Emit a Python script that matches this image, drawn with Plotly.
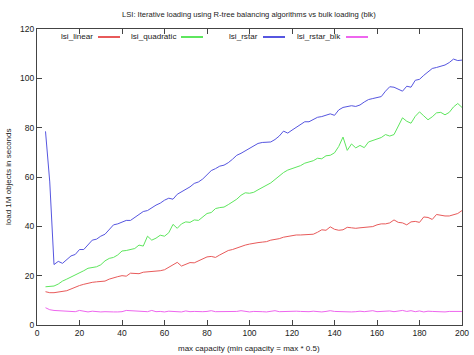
import plotly.graph_objects as go

x_capacity = list(range(4, 201, 2))

lsi_linear = [13.5, 13.1, 13.1, 13.3, 13.6, 13.9, 14.6, 15.4, 16.0, 16.5,
              17.0, 17.3, 17.5, 17.5, 17.8, 18.6, 19.2, 19.6, 20.0, 19.8,
              21.0, 20.8, 20.8, 21.4, 21.5, 21.6, 21.8, 22.0, 22.4, 23.4,
              24.4, 25.4, 23.9, 24.6, 25.3, 25.2, 26.0, 26.8, 27.6, 27.8,
              27.4, 28.4, 29.4, 30.2, 30.6, 31.2, 32.0, 32.4, 32.8, 33.2,
              33.4, 33.6, 33.8, 34.4, 34.6, 35.0, 35.6, 36.0, 36.3, 36.5,
              36.5, 36.5, 36.6, 36.8, 37.6, 38.6, 38.4, 39.8, 38.8, 38.4,
              38.6, 39.6, 39.4, 39.2, 39.4, 39.6, 39.8, 39.9, 40.6, 41.0,
              41.0, 41.4, 42.6, 41.6, 41.4, 40.6, 41.8, 42.0, 41.6, 43.8,
              43.6, 42.8, 44.8, 44.4, 44.2, 44.2, 44.6, 45.2, 46.4]

lsi_quadratic = [15.5, 15.5, 15.8, 16.6, 17.8, 18.6, 19.4, 20.4, 21.2, 22.0,
                 23.0, 23.4, 23.6, 24.4, 26.0, 27.0, 27.4, 28.4, 30.0, 30.2,
                 30.6, 31.0, 32.4, 32.0, 36.0, 34.4, 35.2, 36.4, 36.0, 37.4,
                 40.8, 39.2, 41.0, 41.8, 41.6, 42.6, 42.4, 44.0, 45.2, 45.6,
                 47.2, 47.6, 47.8, 48.8, 50.0, 51.0, 52.6, 53.6, 53.4, 53.8,
                 54.8, 55.8, 56.6, 57.6, 59.0, 60.4, 61.8, 62.8, 63.4, 64.0,
                 64.6, 65.6, 66.0, 66.6, 67.6, 67.4, 68.6, 68.8, 69.8, 72.4,
                 76.2, 70.8, 73.4, 71.8, 72.8, 71.9, 74.2, 74.8, 75.2, 76.0,
                 77.2, 76.6, 77.2, 80.4, 84.0, 82.6, 81.8, 84.6, 86.4, 84.8,
                 83.2, 84.4, 86.0, 86.2, 85.2, 86.2, 88.4, 89.8, 88.2]

lsi_rstar = [78.5, 58.0, 24.5, 25.8, 25.0, 26.6, 28.0, 28.6, 30.6, 30.6,
             32.4, 34.4, 34.8, 36.0, 36.8, 38.6, 40.6, 41.0, 41.6, 42.4,
             42.4, 43.6, 44.6, 46.0, 46.4, 47.6, 48.6, 49.4, 50.6, 51.4,
             51.0, 53.0, 54.0, 55.0, 56.0, 57.4, 58.0, 59.2, 60.8, 62.6,
             63.4, 64.4, 64.8, 65.8, 67.2, 68.8, 69.6, 70.6, 71.4, 72.6,
             73.6, 74.0, 74.0, 74.2, 75.2, 76.6, 78.6, 77.8, 79.0, 80.2,
             81.2, 82.4, 82.4, 83.2, 84.2, 84.5, 85.2, 85.6, 85.0, 87.2,
             88.2, 88.7, 88.9, 88.6, 89.2, 90.4, 91.4, 91.8, 92.2, 92.6,
             94.8, 96.6, 96.4, 95.6, 94.8, 96.8, 96.4, 99.2, 99.6, 101.2,
             102.6, 104.0, 104.4, 104.8, 105.4, 106.4, 107.8, 107.2, 107.4]

lsi_rstar_blk = [7.0, 6.2, 5.9, 5.8, 5.7, 5.6, 5.5, 5.4, 5.9, 5.5,
                 5.3, 5.6, 5.4, 5.3, 5.4, 5.5, 5.3, 5.3, 5.4, 5.9,
                 5.8, 5.4, 5.4, 5.3, 5.4, 5.9, 5.4, 5.5, 5.3, 5.6,
                 5.5, 5.4, 5.3, 5.7, 5.4, 5.5, 5.3, 5.4, 5.5, 5.8,
                 5.4, 5.4, 5.6, 5.3, 5.4, 5.5, 5.8, 5.4, 5.3, 5.5,
                 5.6, 5.4, 5.3, 5.5, 5.8, 5.4, 5.5, 5.3, 5.4, 5.6,
                 5.5, 5.3, 5.4, 5.6, 5.4, 5.3, 5.5, 5.8, 5.5, 5.4,
                 5.6, 5.4, 5.3, 5.4, 5.6, 5.4, 5.5, 5.8, 5.4, 5.6,
                 5.5, 5.7, 5.4, 5.6, 5.9, 5.5, 5.8, 5.4, 5.7, 5.3,
                 5.6, 5.5, 5.4, 5.2, 5.3, 5.5, 5.5, 5.4, 5.5]

series_names = ["lsi_linear", "lsi_quadratic", "lsi_rstar", "lsi_rstar_blk"]
series_values = [lsi_linear, lsi_quadratic, lsi_rstar, lsi_rstar_blk]
series_colors = ["#e85a5a", "#5ee65e", "#5656e0", "#ee66ee"]

x_ticks = list(range(0, 201, 20))
y_ticks = list(range(0, 121, 20))

FONT = "Liberation Sans"
TXT = "#222"

fig = go.Figure()
for name, vals, col in zip(series_names, series_values, series_colors):
    fig.add_trace(go.Scatter(x=x_capacity, y=vals, mode="lines", name=name,
                             line=dict(color=col, width=1), showlegend=False))

L, R, T, B = 37, 12, 29, 30
W, H = 474, 355
pw, ph = W - L - R, H - T - B


def px_x(px):
    return (px - L) / pw


def px_y(py):
    return (H - B - py) / ph


# gnuplot-style legend: text, then line sample
legend_text_right = [95, 178, 260, 343]
legend_line = [(98, 120), (181, 203), (263, 285), (346, 368)]
ly = 37
annotations = []
shapes = []
for name, col, tr, (a, b) in zip(series_names, series_colors, legend_text_right, legend_line):
    annotations.append(dict(x=px_x(tr), y=px_y(ly), xref="paper", yref="paper",
                            text=name, showarrow=False, xanchor="right", yanchor="middle",
                            font=dict(family=FONT, size=8.1, color=TXT)))
    shapes.append(dict(type="line", xref="paper", yref="paper",
                       x0=px_x(a), x1=px_x(b), y0=px_y(ly), y1=px_y(ly),
                       line=dict(color=col, width=2)))

# axis titles and chart title
annotations.append(dict(x=px_x(249), y=px_y(348), xref="paper", yref="paper",
                        text="max capacity (min capacity = max * 0.5)", showarrow=False,
                        xanchor="center", yanchor="middle",
                        font=dict(family=FONT, size=8, color=TXT)))
annotations.append(dict(x=px_x(8), y=px_y(177), xref="paper", yref="paper",
                        text="load 1M objects in seconds", showarrow=False, textangle=-90,
                        xanchor="center", yanchor="middle",
                        font=dict(family=FONT, size=8, color=TXT)))
annotations.append(dict(x=px_x(249), y=px_y(15), xref="paper", yref="paper",
                        text="LSI: Iterative loading using R-tree balancing algorithms vs bulk loading (blk)",
                        showarrow=False, xanchor="center", yanchor="middle",
                        font=dict(family=FONT, size=7.6, color=TXT)))

fig.update_layout(
    width=W, height=H,
    margin=dict(l=L, r=R, t=T, b=B, autoexpand=False),
    paper_bgcolor="white", plot_bgcolor="white",
    font=dict(family=FONT, size=9, color=TXT),
    annotations=annotations,
    shapes=shapes,
)
fig.update_xaxes(range=[0, 200], tickvals=x_ticks, ticks="inside", ticklen=5,
                 showline=True, linecolor="#444", linewidth=1, mirror="ticks",
                 tickcolor="#444", showgrid=False, zeroline=False, automargin=False,
                 tickfont=dict(family=FONT, size=8.5, color=TXT))
fig.update_yaxes(range=[0, 120], tickvals=y_ticks, ticks="inside", ticklen=5,
                 showline=True, linecolor="#444", linewidth=1, mirror="ticks",
                 tickcolor="#444", showgrid=False, zeroline=False, automargin=False,
                 tickfont=dict(family=FONT, size=8.5, color=TXT))

fig.write_html("out.html", config={"displayModeBar": False},
               post_script="document.body.style.margin='0px';document.body.style.padding='0px';")
